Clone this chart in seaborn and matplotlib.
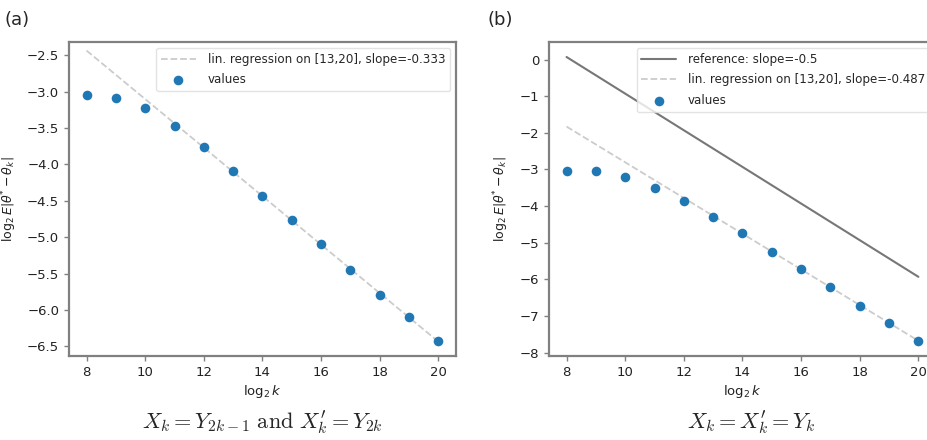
import numpy as np
import pandas as pd
import matplotlib
matplotlib.use("Agg")
import matplotlib.pyplot as plt
import seaborn as sns

# data
log2_k = [8, 9, 10, 11, 12, 13, 14, 15, 16, 17, 18, 19, 20]
err_a = [-3.05, -3.09, -3.23, -3.48, -3.76, -4.09, -4.44, -4.77, -5.10, -5.45, -5.79, -6.09, -6.42]
err_b = [-3.04, -3.04, -3.20, -3.51, -3.86, -4.29, -4.74, -5.24, -5.71, -6.20, -6.72, -7.18, -7.69]
ref_start_b = 0.07
ref_slope_b = -0.5
fit_range = (13, 20)

sns.set_theme(style="white")
plt.rcParams["font.family"] = ["DejaVu Sans"]
plt.rcParams["mathtext.fontset"] = "dejavusans"

BLUE = "#1f77b4"
SPINE = "#808080"


def fit_line(x, y):
    x = np.asarray(x, float)
    y = np.asarray(y, float)
    m = (x >= fit_range[0]) & (x <= fit_range[1])
    slope, icpt = np.polyfit(x[m], y[m], 1)
    return slope, slope * x + icpt


def style_axes(ax, yticks):
    for s in ax.spines.values():
        s.set_color(SPINE)
        s.set_linewidth(1.6)
    ax.tick_params(axis="both", which="both", direction="out", length=3.5,
                   width=1.0, color=SPINE, labelsize=9.5, labelcolor="#222222",
                   bottom=True, left=True)
    ax.set_xticks([8, 10, 12, 14, 16, 18, 20])
    ax.set_yticks(yticks)
    ax.set_xlim(7.4, 20.6)
    ax.set_xlabel(r"$\log_2 k$", fontsize=9.5, color="#222222", labelpad=3)
    ax.set_ylabel(r"$\log_2 E|\theta^{*} - \theta_k|$", fontsize=9, color="#222222", labelpad=6)


def add_legend(ax):
    ax.legend(loc="upper right", fontsize=8.6, frameon=True, edgecolor="#dddddd",
              handlelength=2.9, handletextpad=1.0, labelspacing=0.65,
              borderaxespad=0.5)


fig = plt.figure(figsize=(9.27, 4.40), dpi=100)
ax_a = fig.add_axes([0.0744, 0.191, 0.4175, 0.7136])
ax_b = fig.add_axes([0.5922, 0.191, 0.4175, 0.7136])

# panel (a)
df_a = pd.DataFrame({"k": log2_k, "err": err_a})
slope_a, line_a = fit_line(log2_k, err_a)
sns.lineplot(x=log2_k, y=line_a, ax=ax_a, color="#cccccc", linestyle="--", linewidth=1.3,
             label="lin. regression on [13,20], slope=-0.333")
sns.scatterplot(data=df_a, x="k", y="err", ax=ax_a, color=BLUE, s=48, linewidth=0,
                label="values", zorder=3)
ax_a.set_ylim(-6.63, -2.32)
style_axes(ax_a, [-2.5, -3.0, -3.5, -4.0, -4.5, -5.0, -5.5, -6.0, -6.5])
add_legend(ax_a)

# panel (b)
df_b = pd.DataFrame({"k": log2_k, "err": err_b})
ref_b = [ref_start_b + ref_slope_b * (k - log2_k[0]) for k in log2_k]
slope_b, line_b = fit_line(log2_k, err_b)
sns.lineplot(x=log2_k, y=ref_b, ax=ax_b, color="#777777", linewidth=1.5,
             label="reference: slope=-0.5")
sns.lineplot(x=log2_k, y=line_b, ax=ax_b, color="#cccccc", linestyle="--", linewidth=1.3,
             label="lin. regression on [13,20], slope=-0.487")
sns.scatterplot(data=df_b, x="k", y="err", ax=ax_b, color=BLUE, s=48, linewidth=0,
                label="values", zorder=3)
ax_b.set_ylim(-8.09, 0.48)
style_axes(ax_b, [0, -1, -2, -3, -4, -5, -6, -7, -8])
add_legend(ax_b)

# panel letters and captions
fig.text(0.005, 0.955, "(a)", fontsize=13, ha="left", va="center")
fig.text(0.526, 0.955, "(b)", fontsize=13, ha="left", va="center")
cap_kw = dict(fontsize=16, ha="center", va="baseline", math_fontfamily="cm")
fig.text(0.283, 0.027, r"$X_k = Y_{2k-1}\ \mathrm{and}\ X^{\prime}_k = Y_{2k}$", **cap_kw)
fig.text(0.811, 0.027, r"$X_k = X^{\prime}_k = Y_k$", **cap_kw)

fig.savefig("out.png", dpi=100)
